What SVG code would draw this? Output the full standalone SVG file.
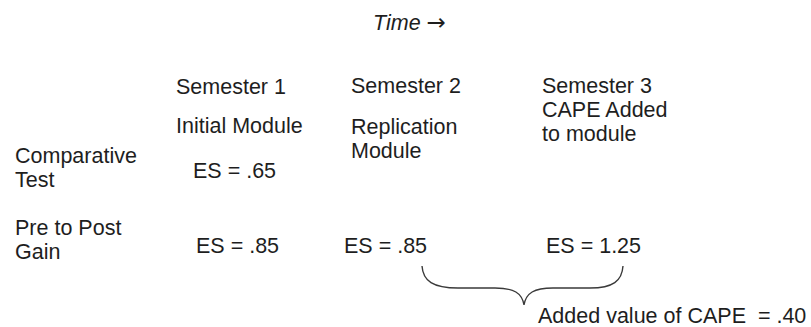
<svg xmlns="http://www.w3.org/2000/svg" width="811" height="327" viewBox="0 0 811 327">
<style>
text { font-family: "Liberation Sans", Arial, sans-serif; font-size: 21.5px; fill: #1e1e1e; }
.it { font-style: italic; }
.arrow { font-family: "DejaVu Sans", sans-serif; font-style: normal; font-size: 23px; }
.brace { fill: none; stroke: #3a3a3a; stroke-width: 1.4; }
</style>
<rect width="811" height="327" fill="#ffffff"/>
<g id="time"><text class="it" x="373" y="30">Time <tspan class="arrow">→</tspan></text></g>
<g id="sem1"><text x="176" y="94">Semester 1</text><text x="176" y="133">Initial Module</text></g>
<g id="sem2"><text x="351" y="93">Semester 2</text><text x="351" y="134">Replication</text><text x="351" y="158">Module</text></g>
<g id="sem3"><text x="542" y="93">Semester 3</text><text x="542" y="117">CAPE Added</text><text x="542" y="141">to module</text></g>
<g id="row-comparative"><text x="15" y="163">Comparative</text><text x="15" y="187">Test</text></g>
<g id="row-gain"><text x="15" y="235">Pre to Post</text><text x="15" y="259">Gain</text></g>
<g id="es-comp1"><text x="193" y="178">ES = .65</text></g>
<g id="es-gain1"><text x="196" y="253">ES = .85</text></g>
<g id="es-gain2"><text x="344" y="253">ES = .85</text></g>
<g id="es-gain3"><text x="546" y="253">ES = 1.25</text></g>
<g id="added-value"><text x="538" y="323">Added value of CAPE &#160;= .40</text></g>
<g id="connectors">
<path class="brace" d="M 422 266 C 423 281, 433 288, 458 288 L 495 288 C 514 288, 522 293, 524 305 C 526 293, 534 288, 553 288 L 590 288 C 613 288, 622 281, 623 266"/>
</g>
</svg>
